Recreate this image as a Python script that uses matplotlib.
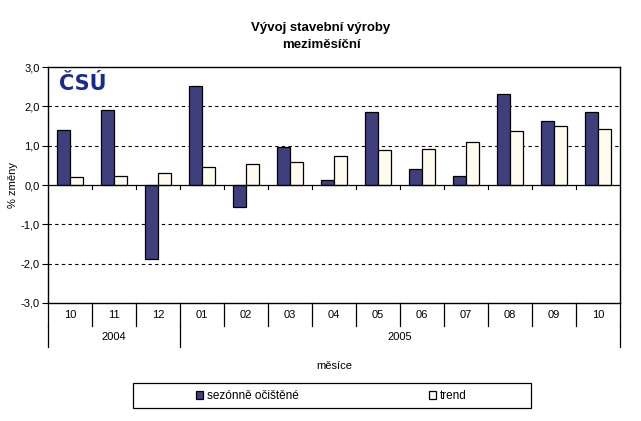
import matplotlib
matplotlib.use("Agg")
import matplotlib.pyplot as plt
from matplotlib.patches import Rectangle
import matplotlib.transforms as mtransforms
import numpy as np

plt.rcParams['font.family'] = ['Liberation Sans', 'DejaVu Sans']

months = ['10', '11', '12', '01', '02', '03', '04', '05', '06', '07', '08', '09', '10']
years = ['2004', '2005']
year_counts = [3, 10]
seasonal = [1.40, 1.91, -1.88, 2.52, -0.56, 0.97, 0.13, 1.86, 0.41, 0.23, 2.31, 1.63, 1.86]
trend = [0.21, 0.24, 0.31, 0.46, 0.53, 0.58, 0.74, 0.89, 0.92, 1.09, 1.37, 1.50, 1.42]
series_names = ['sezónně očištěné', 'trend']
yticks = [-3.0, -2.0, -1.0, 0.0, 1.0, 2.0, 3.0]

dark = '#3F3F7E'
cream = '#FFFBEF'
fs = 8

W, H = 641, 421
fig = plt.figure(figsize=(W / 100, H / 100), dpi=100)
ax = fig.add_axes([48 / W, (H - 303) / H, (620 - 48) / W, (303 - 67) / H])

n = len(months)
x = np.arange(n)
bw = 0.29
ax.bar(x - bw / 2, seasonal, bw, color=dark, edgecolor='black', linewidth=0.9,
       label=series_names[0], zorder=3)
ax.bar(x + bw / 2, trend, bw, color=cream, edgecolor='black', linewidth=0.9,
       label=series_names[1], zorder=3)

ax.set_xlim(-0.5, n - 0.5)
ax.set_ylim(yticks[0], yticks[-1])
ax.set_yticks(yticks)
ax.set_yticklabels([f'{v:.1f}'.replace('.', ',') for v in yticks], fontsize=fs)
ax.tick_params(axis='y', direction='out', length=4, width=0.8, pad=2)
ax.set_xticks([])

for v in yticks[1:-1]:
    if v != 0:
        ax.axhline(v, color='black', linestyle=(0, (3, 3)), linewidth=0.8, zorder=1)
ax.axhline(0, color='black', linewidth=0.9, zorder=4)

for s in ax.spines.values():
    s.set_linewidth(1.0)

# category tick marks on the zero line
for b in np.arange(0.5, n - 0.5, 1.0):
    ax.plot([b, b], [0, -0.09], color='black', linewidth=0.8, zorder=4)

# multi-level category axis below the plot
tr = mtransforms.blended_transform_factory(ax.transData, ax.transAxes)
row1 = -23 / 236
row2 = -44 / 236
for b in np.arange(-0.5, n + 0.5, 1.0):
    ax.plot([b, b], [0, row1], transform=tr, color='black', linewidth=0.9, clip_on=False)
for i, m in enumerate(months):
    ax.text(i, row1 / 2, m, transform=tr, ha='center', va='center', fontsize=fs)
start = 0
bounds = [-0.5]
for yr, c in zip(years, year_counts):
    ax.text(start + (c - 1) / 2, (row1 + row2) / 2, yr, transform=tr, ha='center',
            va='center', fontsize=fs)
    start += c
    bounds.append(start - 0.5)
for b in bounds:
    ax.plot([b, b], [row1, row2], transform=tr, color='black', linewidth=0.9, clip_on=False)

ax.text(0.5, -63 / 236, 'měsíce', transform=ax.transAxes, ha='center', va='center', fontsize=fs)
ax.set_ylabel('% změny', fontsize=fs, labelpad=2)

fig.text(321 / W, 1 - 28 / H, 'Vývoj stavební výroby', ha='center', va='center',
         fontsize=9.5, fontweight='bold')
fig.text(321 / W, 1 - 45 / H, 'meziměsíční', ha='center', va='center',
         fontsize=9.5, fontweight='bold')

# logo
ax.text(11 / 572, 1 - 17 / 236, 'ČSÚ', transform=ax.transAxes, ha='left', va='center',
        fontsize=15, fontweight='bold', color='#1B2A8F', family='DejaVu Sans')

# legend
fig.patches.append(Rectangle((133 / W, (H - 408) / H), (531 - 133) / W, 25 / H,
                             transform=fig.transFigure, facecolor='white',
                             edgecolor='black', linewidth=0.9, figure=fig))
handles, labels = ax.get_legend_handles_labels()
fig.legend(handles, labels, loc='center left', bbox_to_anchor=(196 / W, (H - 396) / H),
           ncol=2, frameon=False, fontsize=fs + 0.5, handlelength=0.6, handleheight=0.6,
           handletextpad=0.3, columnspacing=11.1, borderpad=0, borderaxespad=0)

fig.savefig('out.png', dpi=100)
